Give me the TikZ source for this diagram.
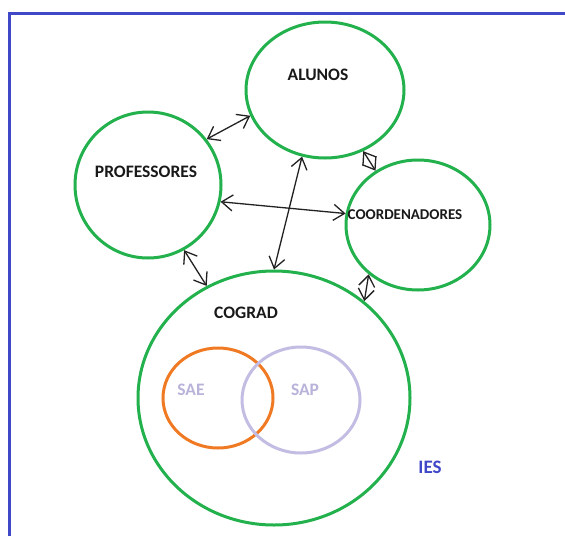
\documentclass[tikz,border=0pt]{standalone}
\usepackage{fontspec}
\setmainfont{Carlito}
\usetikzlibrary{shapes.geometric,arrows.meta}
\definecolor{cgreen}{HTML}{22B14C}
\definecolor{corange}{HTML}{F07A23}
\definecolor{clav}{HTML}{C3BDE4}
\definecolor{clavtext}{HTML}{B9B3DA}
\definecolor{cblue}{HTML}{4048C8}
\definecolor{carrow}{HTML}{222222}
\tikzset{
  circ/.style={ellipse, draw=cgreen, line width=3pt, inner sep=0pt},
  subcirc/.style={ellipse, line width=3pt, inner sep=0pt},
  lbl/.style={font=\fontsize{17.5}{20}\selectfont\bfseries, text=black!90, inner sep=0pt},
  dbl/.style={draw=carrow, line width=1.3pt, {Straight Barb[length=11pt,width=16pt]}-{Straight Barb[length=11pt,width=16pt]}}
}
\begin{document}
\begin{tikzpicture}[x=1pt,y=-1pt]
\useasboundingbox (0,0) rectangle (565,536);
\fill[white] (0,0) rectangle (565,536);
\draw[cblue, line width=3pt] (9.5,536) -- (9.5,13.5) -- (565,13.5);

\node[circ, minimum width=158pt, minimum height=136pt] (alunos) at (325,90) {};
\node[circ, minimum width=146pt, minimum height=146pt] (prof) at (148,185) {};
\node[circ, minimum width=144pt, minimum height=130pt] (coord) at (418,225) {};
\node[circ, minimum width=272pt, minimum height=254pt] (cograd) at (274,398) {};
\node[subcirc, draw=corange, minimum width=110pt, minimum height=100pt] (sae) at (218,398) {};
\node[subcirc, draw=clav, minimum width=118pt, minimum height=106pt] (sap) at (301,400) {};

\node[lbl] (talunos) at (318,75) {ALUNOS};
\node[lbl] (tprof) at (146,172) {PROFESSORES};
\node[lbl, font=\fontsize{15}{17}\selectfont\bfseries] (tcoord) at (405,215) {COORDENADORES};
\node[lbl] (tcograd) at (246,313) {COGRAD};
\node[lbl, text=clavtext] (tsae) at (191,390) {SAE};
\node[lbl, text=clavtext] (tsap) at (305,390) {SAP};
\node[lbl, text=cblue, font=\fontsize{19}{21}\selectfont\bfseries] (ties) at (430,467) {IES};

\draw[dbl] (prof.38) -- (alunos.199);
\draw[dbl] (alunos.-58) -- (coord.128);
\draw[dbl] (prof.-61) -- (cograd.121);
\draw[dbl] (cograd.47) -- (coord.225);
\draw[dbl] (prof.-13) -- (coord.171);
\draw[dbl] (alunos.251) -- (cograd.90);
\end{tikzpicture}
\end{document}
